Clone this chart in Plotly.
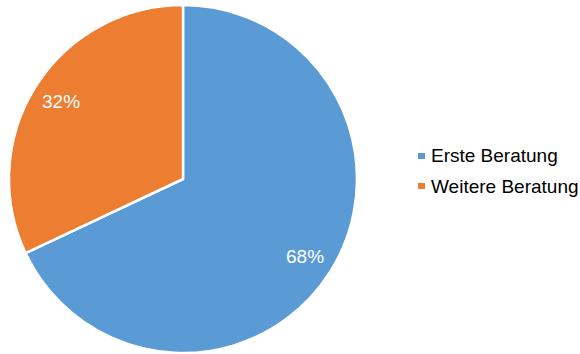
import math
import plotly.graph_objects as go

labels = ["Erste Beratung", "Weitere Beratung"]
values = [68, 32]
colors = ["#5B9BD5", "#ED7D31"]

W, H = 580, 354
cx, cy, r = 183, 179, 174  # pie centre and radius in pixels

fig = go.Figure()
fig.add_trace(go.Pie(
    labels=labels,
    values=values,
    sort=False,
    direction="clockwise",
    rotation=0,
    textinfo="none",
    hoverinfo="label+percent",
    marker=dict(colors=colors, line=dict(color="white", width=2.5)),
    domain=dict(x=[(cx - r) / W, (cx + r) / W], y=[1 - (cy + r) / H, 1 - (cy - r) / H]),
    showlegend=False,
))

annotations = []
shapes = []

# percentage labels placed along each slice's mid angle
total = sum(values)
start = 0.0
for v in values:
    frac = v / total
    mid = (start + frac / 2) * 2 * math.pi
    start += frac
    px = cx + 0.83 * r * math.sin(mid)
    py = cy - 0.83 * r * math.cos(mid)
    annotations.append(dict(
        x=px / W, y=1 - py / H, xref="paper", yref="paper",
        text=f"{round(frac * 100)}%", showarrow=False,
        font=dict(family="Liberation Sans, Arial", size=19, color="white"),
        xanchor="center", yanchor="middle",
    ))

# legend on the right
leg_y = [156, 186]
for lab, col, ly in zip(labels, colors, leg_y):
    shapes.append(dict(
        type="rect", xref="paper", yref="paper",
        x0=418 / W, x1=425 / W, y0=1 - (ly + 3) / H, y1=1 - (ly - 3) / H,
        fillcolor=col, line=dict(width=0),
    ))
    annotations.append(dict(
        x=429 / W, y=1 - ly / H, xref="paper", yref="paper",
        text=lab, showarrow=False, xanchor="left", yanchor="middle",
        font=dict(family="Liberation Sans, Arial", size=19, color="#000000"),
    ))

fig.update_layout(
    width=W, height=H,
    margin=dict(l=0, r=0, t=0, b=0),
    paper_bgcolor="white",
    plot_bgcolor="white",
    annotations=annotations,
    shapes=shapes,
)

fig.write_html("out.html")
